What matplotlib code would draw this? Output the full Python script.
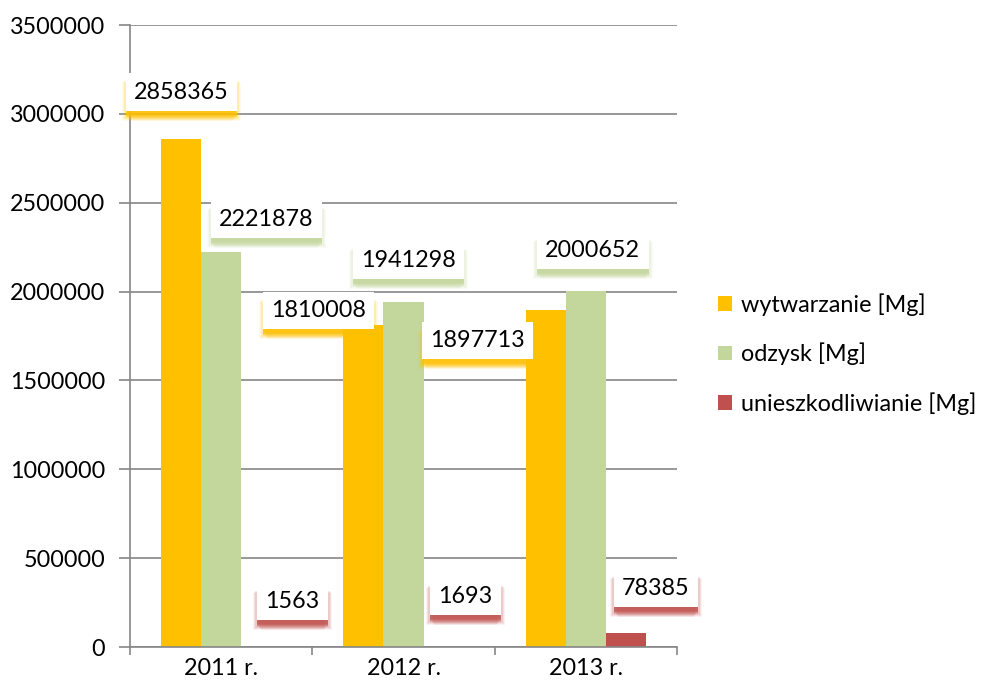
import matplotlib
matplotlib.use("Agg")
import matplotlib.pyplot as plt
import matplotlib.patheffects as pe
from matplotlib.patches import Patch
import numpy as np

categories = ["2011 r.", "2012 r.", "2013 r."]
series_names = ["wytwarzanie [Mg]", "odzysk [Mg]", "unieszkodliwianie [Mg]"]
wytwarzanie = [2858365, 1810008, 1897713]
odzysk = [2221878, 1941298, 2000652]
unieszkodliwianie = [1563, 1693, 78385]
yticks = [0, 500000, 1000000, 1500000, 2000000, 2500000, 3000000, 3500000]

colors = ["#FFC000", "#C3D69B", "#C0504D"]
# label offsets in pixels (dx, dy) from the top-centre of each bar
label_offsets = [
    [(0, 47), (-45, 15), (-68, -31)],
    [(45, 33), (5, 42), (7, 41)],
    [(31, 45), (22, 50), (30, 45)],
]

plt.rcParams['font.family'] = ['Lato', 'DejaVu Sans']
FS = 16.8

fig = plt.figure(figsize=(9.9, 6.91), dpi=100)
ax = fig.add_axes([130/990, 1-647/691, (677-130)/990, (647-25)/691])

series = [wytwarzanie, odzysk, unieszkodliwianie]
x = np.arange(len(categories))
w = 0.22
for i, (vals, col) in enumerate(zip(series, colors)):
    pos = x + (i - 1) * w
    ax.bar(pos, vals, width=w, color=col, zorder=2, linewidth=0)
    for j, v in enumerate(vals):
        dx, dy = label_offsets[i][j]
        t = ax.annotate(str(v), xy=(pos[j], v), xytext=(dx, dy),
                        textcoords='offset pixels', ha='center', va='center',
                        fontsize=FS, color='black', zorder=5,
                        bbox=dict(boxstyle='square,pad=0.35', fc='white', ec='none'))
        effects = []
        for ox, oy, a in [(-4, 10, 0.08), (4, 10, 0.08), (-3, 9, 0.10), (3, 9, 0.10),
                          (-2, 8, 0.15), (2, 8, 0.15), (0, 7, 0.25), (0, 6, 0.35),
                          (0, 5, 0.4), (0, 4, 0.4)]:
            effects.append(pe.SimplePatchShadow(offset=(ox*0.72, -oy*0.72),
                                                shadow_rgbFace=col, alpha=a))
        effects.append(pe.Normal())
        t.get_bbox_patch().set_path_effects(effects)

ax.set_xlim(-0.5, len(categories) - 0.5)
ax.set_ylim(0, 3500000)
ax.set_yticks(yticks)
ax.set_yticklabels([str(v) for v in yticks])
ax.yaxis.grid(True, color='#868686', linewidth=1.2, zorder=0)
ax.set_axisbelow(True)

ax.set_xticks(x)
ax.set_xticklabels(categories)
ax.set_xticks(np.arange(len(categories) + 1) - 0.5, minor=True)
ax.tick_params(axis='x', which='major', length=0, labelsize=FS, pad=8)
ax.tick_params(axis='x', which='minor', length=6, color='#868686', width=1.2)
ax.tick_params(axis='y', length=8, color='#868686', width=1.2, labelsize=FS, pad=10)

for s in ['top', 'right']:
    ax.spines[s].set_visible(False)
for s in ['left', 'bottom']:
    ax.spines[s].set_color('#868686')
    ax.spines[s].set_linewidth(1.2)

handles = [Patch(facecolor=c, edgecolor='none') for c in colors]
fig.legend(handles, series_names, loc='center left',
           bbox_to_anchor=(718/990, 1-354/691), frameon=False, borderaxespad=0,
           fontsize=FS, handlelength=0.6, handleheight=0.6,
           handletextpad=0.4, labelspacing=1.15, borderpad=0)

fig.savefig("out.png", dpi=100)
